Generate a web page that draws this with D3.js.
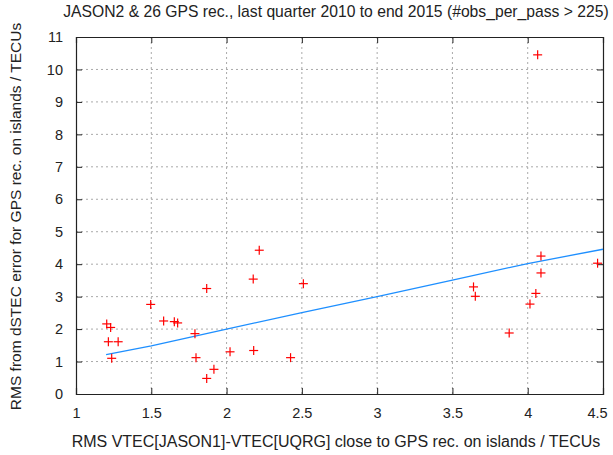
<!DOCTYPE html>
<html>
<head>
<meta charset="utf-8">
<script src="https://cdn.jsdelivr.net/npm/d3@7"></script>
<style>
  body { margin: 0; background: #fff; }
  text { font-family: "Liberation Sans", Arial, sans-serif; fill: #222; }
</style>
</head>
<body>
<div id="graph"></div>
<script>
// measured points: x = RMS VTEC diff, y = RMS dSTEC error
var pointsX = [1.204, 1.23, 1.215, 1.28, 1.237, 1.496, 1.582, 1.653, 1.675, 1.79, 1.797, 1.868, 1.868, 1.916,
               2.023, 2.18, 2.177, 2.217, 2.425, 2.51, 3.64, 3.652, 3.877, 4.015, 4.054, 4.066, 4.088, 4.088, 4.464];
var pointsY = [2.16, 2.05, 1.61, 1.61, 1.10, 2.76, 2.25, 2.23, 2.19, 1.86, 1.12, 3.25, 0.48, 0.76,
               1.30, 1.34, 3.54, 4.43, 1.12, 3.40, 3.30, 3.01, 1.88, 2.77, 3.10, 10.45, 4.25, 3.73, 4.03];

// fitted line
var fitX = [1.2, 1.5, 2, 2.5, 3, 3.5, 4, 4.5];
var fitY = [1.21, 1.48, 2.0, 2.51, 3.0, 3.51, 4.02, 4.46];

var xTicks = [1, 1.5, 2, 2.5, 3, 3.5, 4, 4.5];
var yTicks = [0, 1, 2, 3, 4, 5, 6, 7, 8, 9, 10, 11];

(function () {
var width = 613;
var height = 455;
var pLeft = 76, pRight = 603, pTop = 37, pBottom = 394;
var tickFs = "14.5px";

var svg = d3.select("#graph").
append("svg").
attr("width", width).
attr("height", height);

var xScale = d3.scaleLinear().domain([1, 4.5]).range([pLeft, pRight]);
var yScale = d3.scaleLinear().domain([0, 11]).range([pBottom, pTop]);

// grid
svg.append("g").selectAll("line").
data(xTicks.slice(1, -1)).
enter().append("line").
attr("x1", function (d) {return xScale(d);}).
attr("x2", function (d) {return xScale(d);}).
attr("y1", pTop).attr("y2", pBottom).
attr("stroke", "#aaa").
attr("stroke-dasharray", "2,3");

svg.append("g").selectAll("line").
data(yTicks.slice(1, -1)).
enter().append("line").
attr("y1", function (d) {return yScale(d);}).
attr("y2", function (d) {return yScale(d);}).
attr("x1", pLeft).attr("x2", pRight).
attr("stroke", "#aaa").
attr("stroke-dasharray", "2,3");

// axes (ticks inward, mirrored)
var xAxis = d3.axisBottom(xScale).tickValues(xTicks).tickSize(-6).tickPadding(12).tickFormat(d3.format("~g"));
var yAxis = d3.axisLeft(yScale).tickValues(yTicks).tickSize(-6).tickPadding(13);
var xTop = d3.axisTop(xScale).tickValues(xTicks).tickSize(-6).tickFormat("");
var yRight = d3.axisRight(yScale).tickValues(yTicks).tickSize(-6).tickFormat("");

var gx = svg.append("g").attr("transform", "translate(0," + pBottom + ")").call(xAxis);
var gy = svg.append("g").attr("transform", "translate(" + pLeft + ",0)").call(yAxis);
var gxt = svg.append("g").attr("transform", "translate(0," + pTop + ")").call(xTop);
var gyr = svg.append("g").attr("transform", "translate(" + pRight + ",0)").call(yRight);

[gx, gy, gxt, gyr].forEach(function (g) {
   g.select(".domain").attr("stroke", "#222").attr("stroke-width", 1.2);
   g.selectAll(".tick line").attr("stroke", "#222");
   g.selectAll(".tick text").style("font-size", tickFs).attr("fill", "#333");
});
gx.selectAll(".tick text").attr("dy", "0.8em");
// last label is pulled inside the window, like the original
gx.selectAll(".tick text").filter(function (d) {return d === 4.5;}).attr("dx", -6);

// fit line
var line = d3.line().
x(function (d, i) {return xScale(fitX[i]);}).
y(function (d, i) {return yScale(fitY[i]);});

svg.append("path").
datum(fitX).
attr("d", line).
attr("fill", "none").
attr("stroke", "#1e8fff").
attr("stroke-width", 1.3);

// plus markers
var arm = 4.5;
var pts = svg.append("g").selectAll("g").
data(pointsX).
enter().append("g").
attr("transform", function (d, i) {return "translate(" + xScale(d) + "," + yScale(pointsY[i]) + ")";});
pts.append("line").attr("x1", -arm).attr("x2", arm).attr("y1", 0).attr("y2", 0).attr("stroke", "#f00").attr("stroke-width", 1.2);
pts.append("line").attr("y1", -arm).attr("y2", arm).attr("x1", 0).attr("x2", 0).attr("stroke", "#f00").attr("stroke-width", 1.2);

// titles
svg.append("text").
text("JASON2 & 26 GPS rec., last quarter 2010 to end 2015 (#obs_per_pass > 225)").
attr("x", 336).
attr("y", 12).
attr("dy", "0.35em").
style("font-size", "15.7px").
style("text-anchor", "middle");

svg.append("text").
text("RMS VTEC[JASON1]-VTEC[UQRG] close to GPS rec. on islands / TECUs").
attr("x", 336).
attr("y", 441).
attr("dy", "0.35em").
style("font-size", "16px").
style("text-anchor", "middle");

svg.append("text").
attr("transform", "translate(16," + 216.5 + ") rotate(-90)").
attr("dy", "0.35em").
style("font-size", "15.5px").
style("text-anchor", "middle").
text("RMS from dSTEC error for GPS rec. on islands / TECUs");
})();
</script>
</body>
</html>
